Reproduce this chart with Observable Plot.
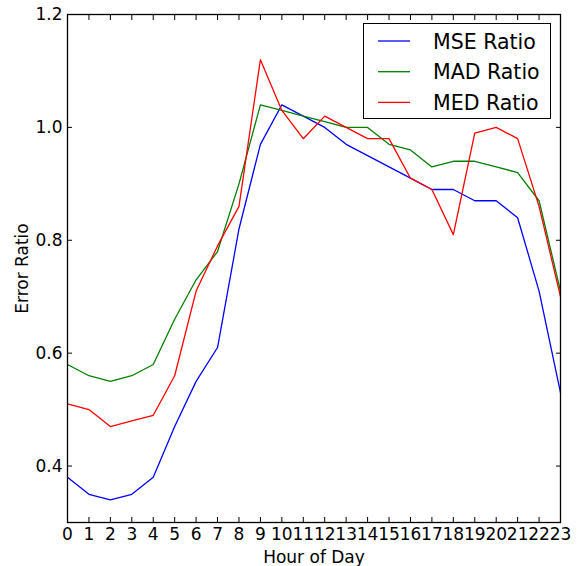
<!DOCTYPE html>
<html>
<head>
<meta charset="utf-8">
<script src="https://cdn.jsdelivr.net/npm/d3@7"></script>
<script src="https://cdn.jsdelivr.net/npm/@observablehq/plot@0.6"></script>
<style>
  html, body { margin: 0; padding: 0; background: #fff; }
  #wrap { position: relative; width: 579px; height: 566px; font-family: "DejaVu Sans", sans-serif; }
  #legend { position: absolute; left: 363px; top: 23px; width: 186px; height: 94px; border: 1.3px solid #000; background: #fff; }
</style>
</head>
<body>
<div id="wrap"></div>
<script>
const hours = d3.range(0, 24);
const mseRatio = [0.38, 0.35, 0.34, 0.35, 0.38, 0.47, 0.55, 0.61, 0.82, 0.97, 1.04, 1.02, 1.00, 0.97, 0.95, 0.93, 0.91, 0.89, 0.89, 0.87, 0.87, 0.84, 0.71, 0.53];
const madRatio = [0.58, 0.56, 0.55, 0.56, 0.58, 0.66, 0.73, 0.78, 0.90, 1.04, 1.03, 1.02, 1.01, 1.00, 1.00, 0.97, 0.96, 0.93, 0.94, 0.94, 0.93, 0.92, 0.87, 0.71];
const medRatio = [0.51, 0.50, 0.47, 0.48, 0.49, 0.56, 0.71, 0.79, 0.86, 1.12, 1.03, 0.98, 1.02, 1.00, 0.98, 0.98, 0.91, 0.89, 0.81, 0.99, 1.00, 0.98, 0.86, 0.70];
const seriesNames = ["MSE Ratio", "MAD Ratio", "MED Ratio"];
const seriesColors = ["#0000ff", "#008000", "#ff0000"];
const yTicks = [0.4, 0.6, 0.8, 1.0, 1.2];

const seriesValues = [mseRatio, madRatio, medRatio];
const rows = [];
seriesNames.forEach((name, s) => {
  hours.forEach((h, i) => rows.push({series: name, hour: h, value: seriesValues[s][i]}));
});

const font = "DejaVu Sans";
const chart = Plot.plot({
  width: 579,
  height: 566,
  marginLeft: 67,
  marginRight: 19,
  marginTop: 14,
  marginBottom: 44,
  style: {fontFamily: font, fontSize: "17px", background: "#fff", color: "#000"},
  x: {type: "linear", domain: [0, 23]},
  y: {type: "linear", domain: [0.3, 1.2]},
  color: {domain: seriesNames, range: seriesColors},
  marks: [
    Plot.line(rows, {x: "hour", y: "value", z: "series", stroke: "series", strokeWidth: 1.3}),
    Plot.axisX(hours, {anchor: "bottom", tickSize: -5, tickPadding: 10, tickFormat: d => String(d), label: null, fontSize: 17, stroke: "#000"}),
    Plot.axisX(hours, {anchor: "top", tickSize: -5, tickFormat: () => "", label: null}),
    Plot.axisY(yTicks, {anchor: "left", tickSize: -5, tickPadding: 10, tickFormat: d3.format(".1f"), label: null, fontSize: 17}),
    Plot.axisY(yTicks, {anchor: "right", tickSize: -5, tickFormat: () => "", label: null}),
    Plot.frame({stroke: "#000", strokeWidth: 1.3}),
    Plot.text(["Hour of Day"], {frameAnchor: "bottom", textAnchor: "middle", lineAnchor: "bottom", dy: 40, fontSize: 17, fill: "#000"}),
    Plot.text(["Error Ratio"], {frameAnchor: "left", textAnchor: "middle", lineAnchor: "bottom", rotate: -90, dx: -40, fontSize: 17, fill: "#000"})
  ]
});
const wrap = document.getElementById("wrap");
wrap.appendChild(chart);

// Legend overlay
const legend = document.createElement("div");
legend.id = "legend";
const ns = "http://www.w3.org/2000/svg";
const lsvg = document.createElementNS(ns, "svg");
lsvg.setAttribute("width", "186");
lsvg.setAttribute("height", "94");
seriesNames.forEach((name, i) => {
  const y = 17 + i * 30.7;
  const ln = document.createElementNS(ns, "line");
  ln.setAttribute("x1", 14); ln.setAttribute("x2", 46);
  ln.setAttribute("y1", y); ln.setAttribute("y2", y);
  ln.setAttribute("stroke", seriesColors[i]);
  ln.setAttribute("stroke-width", 1.3);
  lsvg.appendChild(ln);
  const tx = document.createElementNS(ns, "text");
  tx.setAttribute("x", 69); tx.setAttribute("y", y + 7.5);
  tx.setAttribute("font-family", font);
  tx.setAttribute("font-size", "20.5px");
  tx.textContent = name;
  lsvg.appendChild(tx);
});
legend.appendChild(lsvg);
wrap.appendChild(legend);
</script>
</body>
</html>
